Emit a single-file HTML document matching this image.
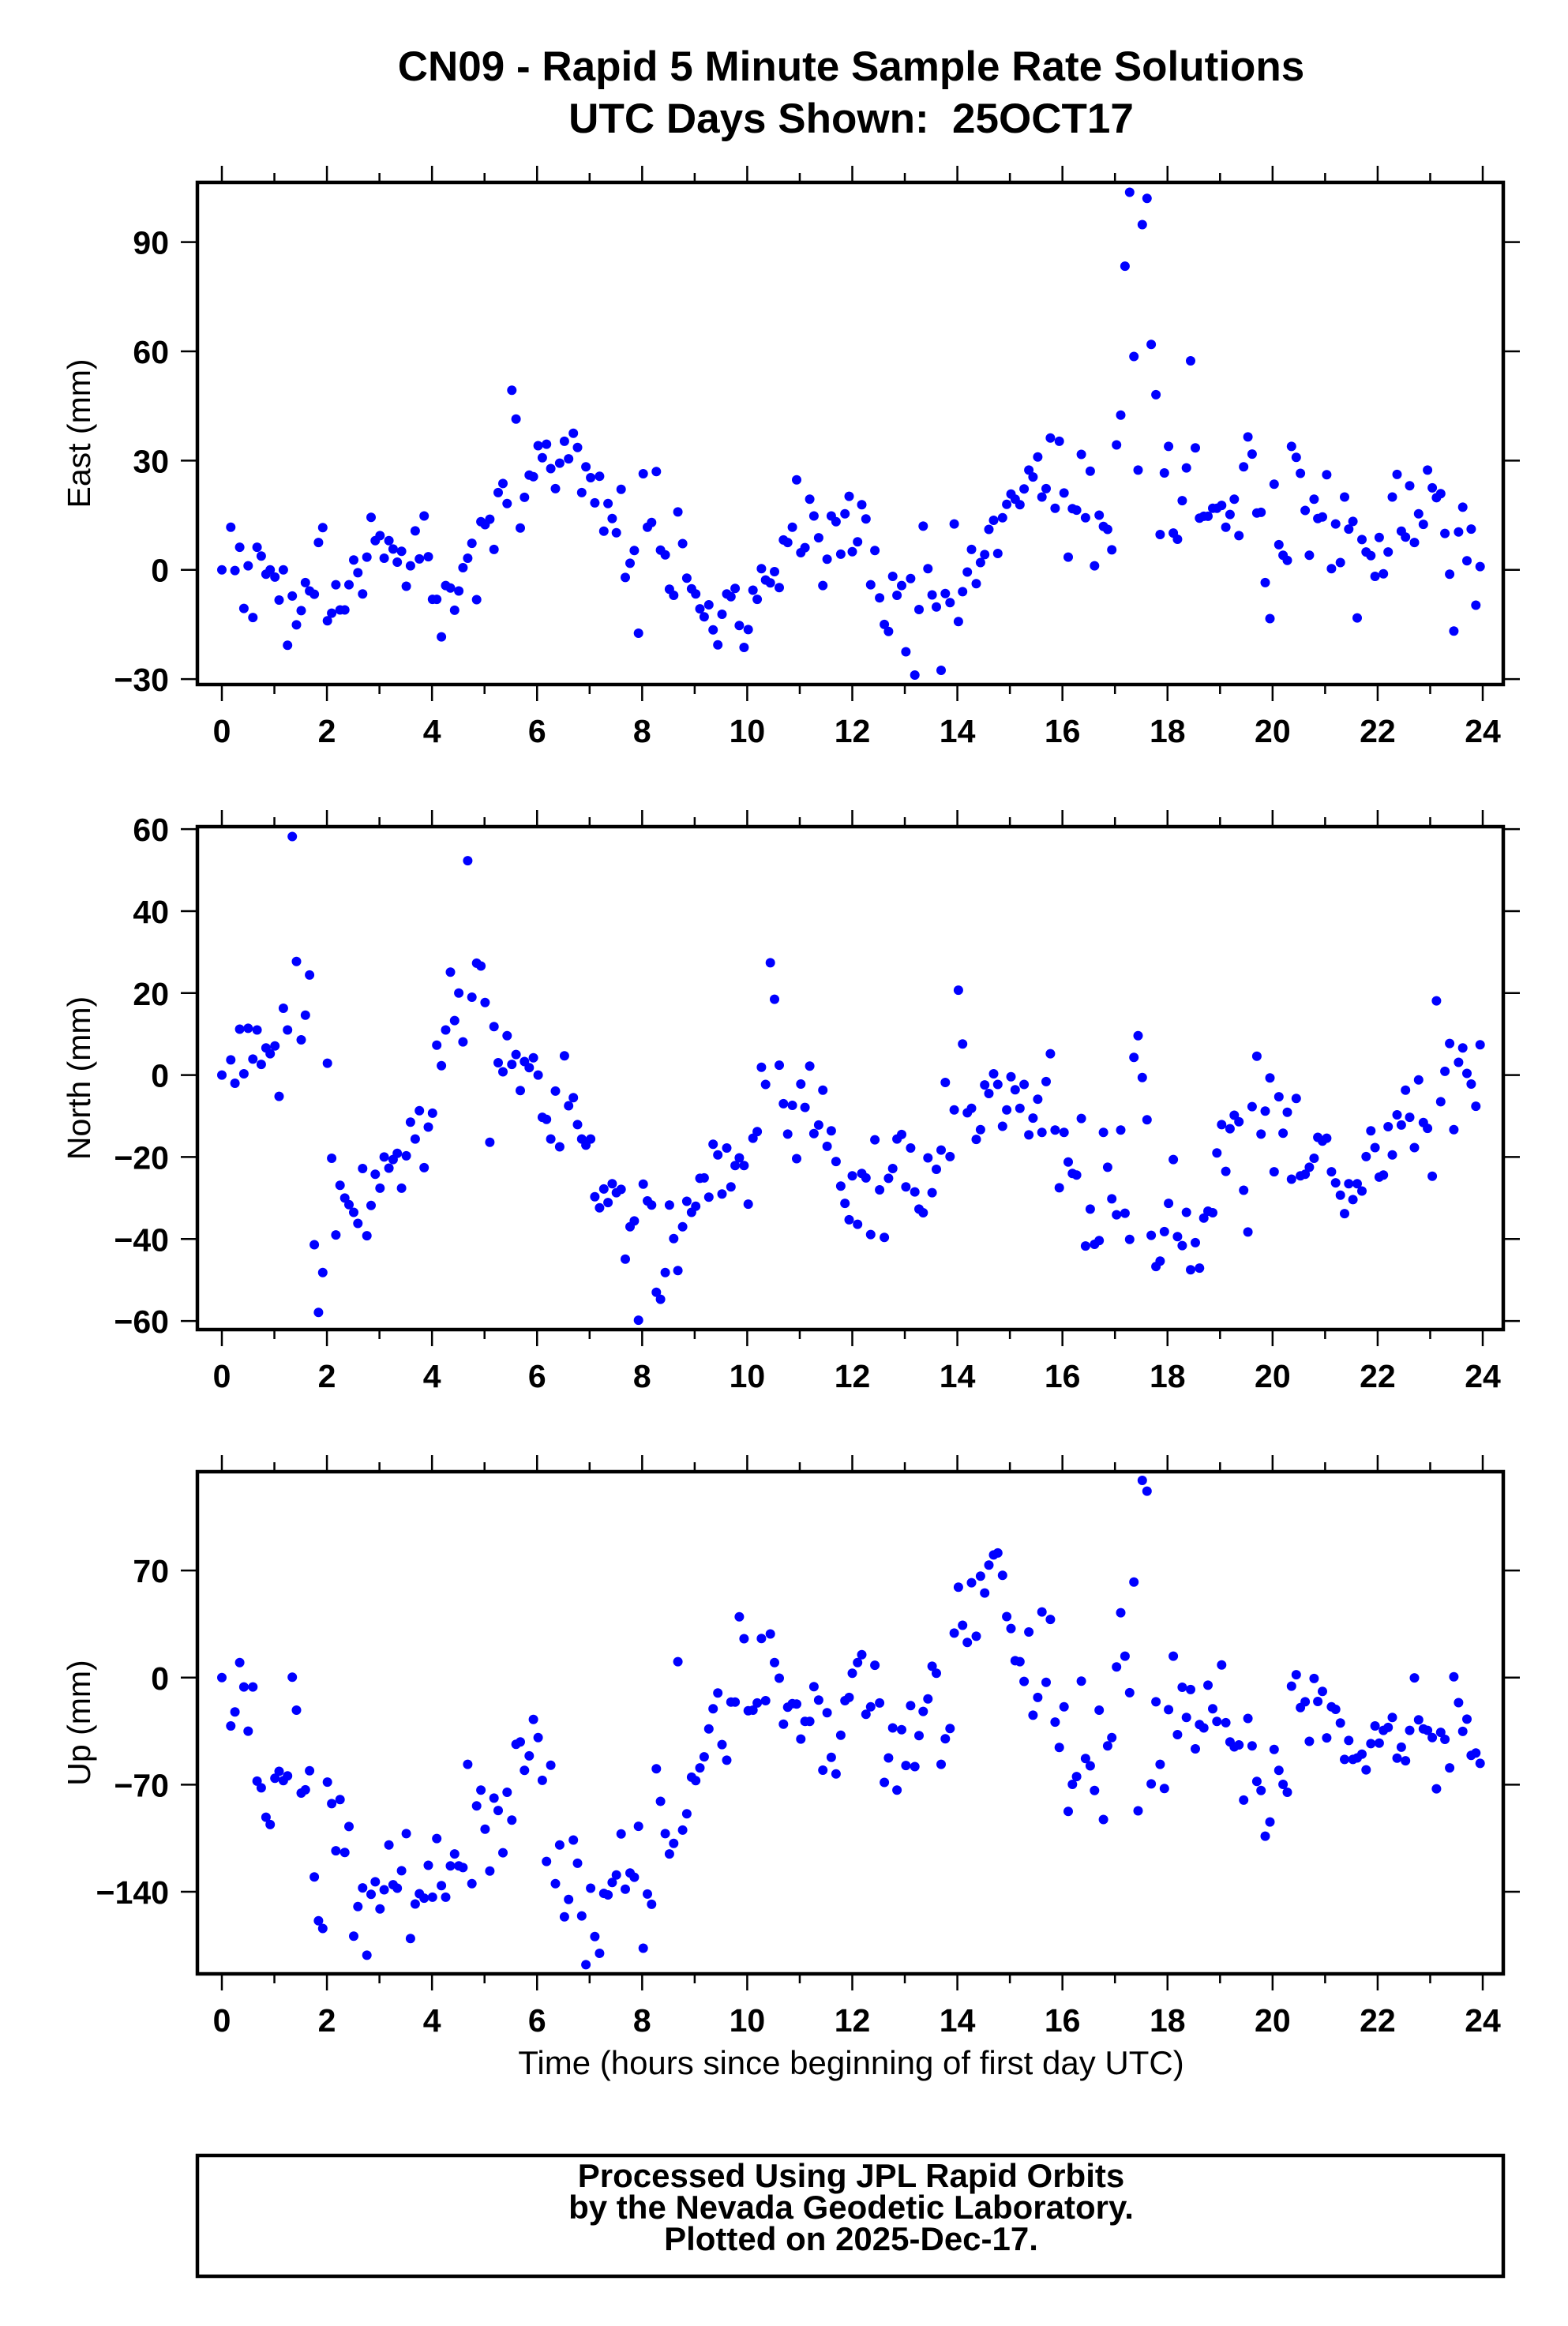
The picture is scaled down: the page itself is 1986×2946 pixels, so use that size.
<!DOCTYPE html>
<html><head><meta charset="utf-8"><title>CN09 Rapid 5 Minute Solutions</title>
<style>
html,body{margin:0;padding:0;background:#fff;}
svg{display:block;font-family:"Liberation Sans",Arial,sans-serif;}
</style></head>
<body>
<svg id="chart" xmlns="http://www.w3.org/2000/svg" width="1986" height="2946" viewBox="0 0 1986 2946">
<rect x="0" y="0" width="1986" height="2946" fill="#fff"/>
<text x="1078" y="102" text-anchor="middle" font-size="53" font-weight="bold">CN09 - Rapid 5 Minute Sample Rate Solutions</text>
<text x="1078" y="168" text-anchor="middle" font-size="53" font-weight="bold" xml:space="preserve" style="white-space:pre">UTC Days Shown:  25OCT17</text>
<text x="1078" y="2627" text-anchor="middle" font-size="42">Time (hours since beginning of first day UTC)</text>
<g>
<rect x="250" y="2730" width="1654" height="153" fill="none" stroke="#000" stroke-width="4.5"/>
<text x="1078" y="2770" text-anchor="middle" font-size="42" font-weight="bold">Processed Using JPL Rapid Orbits</text>
<text x="1078" y="2810" text-anchor="middle" font-size="42" font-weight="bold">by the Nevada Geodetic Laboratory.</text>
<text x="1078" y="2850" text-anchor="middle" font-size="42" font-weight="bold">Plotted on 2025-Dec-17.</text>
</g>
</svg>
<script>
const hours1 = [0,0.17,0.25,0.34,0.42,0.5,0.59,0.67,0.75,0.84,0.92,1.01,1.09,1.17,1.25,1.34,1.42,1.51,1.59,1.67,1.76,1.84,1.92,2.01,2.09,2.17,2.25,2.34,2.42,2.51,2.59,2.68,2.76,2.84,2.92,3.01,3.09,3.18,3.26,3.34,3.42,3.51,3.59,3.68,3.76,3.85,3.93,4.01,4.09,4.18,4.26,4.35,4.43,4.51,4.59,4.68,4.76,4.85,4.93,5.01,5.1,5.18,5.26,5.35,5.43,5.52,5.6,5.68,5.76,5.85,5.93,6.02,6.1,6.18,6.26,6.35,6.43,6.52,6.6,6.69,6.77,6.85,6.93,7.02,7.1,7.19,7.27,7.35,7.43,7.51,7.6,7.68,7.77,7.85,7.93,8.02,8.1,8.18,8.27,8.35,8.44,8.52,8.6,8.68,8.77,8.85,8.94,9.02,9.1,9.18,9.27,9.35,9.44,9.52,9.61,9.69,9.77,9.85,9.94,10.02,10.11,10.19,10.27,10.35,10.44,10.52,10.61,10.69,10.77,10.86,10.94,11.02,11.1,11.19,11.27,11.36,11.44,11.52,11.6,11.69,11.78,11.86,11.94,12.0];
const hours2 = [12.10,12.18,12.26,12.35,12.43,12.52,12.61,12.69,12.77,12.85,12.94,13.02,13.11,13.19,13.27,13.35,13.44,13.52,13.60,13.69,13.77,13.86,13.94,14.02,14.10,14.19,14.27,14.36,14.44,14.52,14.60,14.69,14.77,14.86,14.94,15.02,15.10,15.19,15.27,15.36,15.44,15.53,15.61,15.69,15.77,15.86,15.94,16.03,16.11,16.19,16.27,16.36,16.44,16.53,16.61,16.70,16.78,16.86,16.94,17.03,17.11,17.19,17.28,17.36,17.44,17.52,17.61,17.69,17.78,17.86,17.94,18.02,18.11,18.19,18.28,18.36,18.44,18.53,18.61,18.69,18.77,18.86,18.94,19.03,19.11,19.19,19.27,19.36,19.45,19.53,19.61,19.70,19.78,19.86,19.95,20.03,20.12,20.20,20.28,20.36,20.45,20.53,20.62,20.70,20.79,20.86,20.95,21.03,21.12,21.20,21.29,21.37,21.45,21.53,21.61,21.70,21.78,21.87,21.95,22.03,22.11,22.20,22.28,22.37,22.45,22.53,22.61,22.70,22.78,22.87,22.95,23.04,23.12,23.20,23.28,23.37,23.45,23.54,23.62,23.70,23.78,23.87,23.95];
const eastValues1 = [0,11.7,-0.2,6.2,-10.6,1.1,-13.1,6.2,3.8,-1.2,0,-2,-8.3,0,-20.7,-7.2,-15.1,-11.2,-3.5,-5.8,-6.7,7.5,11.6,-14,-11.9,-4.1,-11,-11,-4.1,2.7,-0.8,-6.6,3.5,14.4,8,9.4,3.2,8,5.7,2.1,5.1,-4.5,1.1,10.7,3,14.8,3.6,-8.1,-8.1,-18.4,-4.3,-5,-11.1,-5.8,0.6,3.2,7.3,-8.2,13.2,12.4,13.9,5.6,21.2,23.7,18.2,49.3,41.4,11.5,19.9,26,25.6,34.1,30.8,34.5,27.8,22.3,29.3,35.3,30.5,37.5,33.6,21.2,28.3,25.3,18.4,25.7,10.6,18.2,14.1,10.2,22.1,-2.1,1.8,5.3,-17.4,26.4,11.7,13,27,5.4,4.1,-5.3,-7,15.9,7.2,-2.3,-5.2,-6.6,-10.7,-12.9,-9.6,-16.5,-20.6,-12.2,-6.6,-7.4,-5.1,-15.3,-21.3,-16.4,-5.6,-8.1,0.3,-2.8,-3.6,-0.5,-4.9,8.2,7.5,11.7,24.7,4.7,6.1,19.4,14.8,8.8,-4.3,2.9,14.8,13.2,4.3,15.4,20.2,5];
const eastValues2 = [7.7,17.9,14,-4.1,5.3,-7.7,-15,-16.9,-1.8,-7,-4.3,-22.5,-2.4,-28.9,-10.9,12,0.3,-6.9,-10.2,-27.6,-6.5,-9,12.6,-14.2,-6,-0.6,5.6,-3.8,2,4.2,11.1,13.6,4.5,14.3,18,20.8,19.4,17.9,22.2,27.4,25.5,31,20,22.3,36.2,16.9,35.3,21.1,3.5,16.8,16.4,31.7,14.3,27.1,1.1,15,11.9,11.1,5.5,34.3,42.5,83.4,103.7,58.6,27.4,94.8,102,61.9,48.1,9.7,26.6,33.9,10.1,8.4,19,28,57.4,33.5,14.2,14.7,14.7,16.9,16.9,17.7,11.7,15.2,19.4,9.4,28.3,36.5,31.8,15.6,15.8,-3.5,-13.4,23.5,6.9,4,2.6,33.9,30.9,26.5,16.3,4,19.4,14.1,14.5,26.1,0.3,12.6,2,20,11.2,13.3,-13.2,8.3,4.9,3.9,-1.8,8.9,-1.1,4.9,20,26.2,10.6,9,23.1,7.5,15.4,12.5,27.4,22.5,19.8,20.9,10,-1.2,-16.8,10.4,17.2,2.5,11.2,-9.7,0.9];
const northValues1 = [0,3.7,-2,11.2,0.3,11.4,3.9,11,2.6,6.6,5.2,7.1,-5.2,16.3,11,58.2,27.7,8.6,14.6,24.4,-41.4,-57.9,-48.2,2.9,-20.3,-39,-26.9,-30,-31.6,-33.5,-36.2,-22.8,-39.2,-31.8,-24.2,-27.6,-20,-22.7,-20.6,-19.1,-27.6,-19.7,-11.5,-15.6,-8.7,-22.6,-12.7,-9.3,7.3,2.3,11,25.1,13.3,20,8.1,52.3,19,27.3,26.6,17.7,-16.4,11.8,3,0.8,9.6,2.6,5,-3.8,3.3,1.8,4.2,0,-10.3,-10.8,-15.6,-3.9,-17.5,4.7,-7.5,-5.5,-12.1,-15.6,-17.1,-15.6,-29.7,-32.4,-27.8,-31.1,-26.5,-28.7,-27.9,-44.9,-37,-35.6,-59.8,-26.6,-30.7,-31.7,-53,-54.7,-48.2,-31.7,-39.9,-47.7,-37,-30.8,-33.5,-32,-25.2,-25.1,-29.8,-16.9,-19.5,-29,-17.8,-27.3,-22.1,-20.2,-22.1,-31.5,-15.4,-13.8,1.9,-2.3,27.4,18.5,2.4,-7,-14.4,-7.4,-20.4,-2.2,-7.9,2.2,-14.3,-12.2,-3.7,-17.4,-13.6,-21.1,-27.1,-31.3,-35.3,-24.6];
const northValues2 = [-36.4,-24,-25.1,-38.9,-15.8,-28,-39.6,-25.2,-22.8,-15.6,-14.5,-27.3,-17.8,-28.5,-32.7,-33.6,-20.2,-28.7,-23,-18.3,-1.8,-19.9,-8.5,20.7,7.6,-9.2,-8.1,-15.7,-13.3,-2.4,-4.5,0.3,-2.3,-12.5,-8.5,-0.4,-3.6,-8.1,-2.3,-14.6,-10.5,-5.9,-14,-1.6,5.2,-13.4,-27.5,-14,-21.2,-24,-24.4,-10.6,-41.7,-32.7,-41.3,-40.4,-14,-22.5,-30.2,-34.1,-13.4,-33.7,-40.1,4.3,9.6,-0.6,-10.9,-39.1,-46.7,-45.4,-38.2,-31.3,-20.6,-39.4,-41.6,-33.5,-47.5,-40.9,-47.1,-34.9,-33.2,-33.6,-19,-12.1,-23.5,-13.1,-9.8,-11.4,-28.1,-38.3,-7.7,4.6,-14.4,-8.8,-0.7,-23.6,-5.3,-14.2,-9.1,-25.4,-5.7,-24.6,-24.2,-22.5,-20.3,-15.2,-16.1,-15.4,-23.6,-26.3,-29.3,-33.8,-26.5,-30.4,-26.5,-28.3,-19.9,-13.6,-17.7,-24.9,-24.4,-12.6,-19.5,-9.7,-12.2,-3.7,-10.3,-17.7,-1.2,-11.6,-13,-24.7,18.1,-6.5,0.9,7.7,-13.3,3.1,6.6,0.4,-2.2,-7.6,7.4];
const upValues1 = [0,-31.6,-22.5,9.8,-6.1,-35,-6.1,-67.7,-72.1,-91.3,-96.1,-65.8,-61.3,-67.4,-64.3,0.3,-21.3,-75.5,-73.4,-60.9,-130.3,-159,-164,-68.3,-82.4,-113.2,-79.7,-114.3,-97.4,-169.1,-149.7,-137.5,-181.5,-141.7,-133.5,-151.2,-138.7,-109.4,-135.4,-137.7,-126.3,-102,-170.6,-148,-141.3,-144.2,-122.7,-143.6,-105.2,-136,-143.6,-123.1,-115.3,-123.1,-124.2,-56.7,-134.7,-83.9,-73.6,-99.1,-126.5,-78.8,-86.9,-114.5,-75,-93.2,-43.6,-42.1,-60.7,-51.2,-27.4,-39.2,-67.2,-120.2,-57.3,-134.7,-109.4,-156.4,-145.1,-106.2,-121.4,-155.8,-187.7,-137.7,-169.3,-180.3,-141.1,-142.1,-133.9,-129,-102.2,-138.3,-127.8,-130.5,-97.2,-176.9,-141.5,-148.2,-59.6,-80.9,-102,-115.3,-108.4,10.4,-99.7,-89,-65.1,-67.4,-59,-51.8,-33.5,-20.4,-10.1,-43.8,-54,-16,-16,39.7,25.4,-21.7,-21.3,-16.6,25.6,-15.1,28.5,9.8,-0.4,-30.5,-19.4,-17,-17.3,-40.2,-28.6,-28.6,-5.9,-14.7,-60.5,-23,-52.1,-63,-37.7,-15.1,-13,2.8];
const upValues2 = [9.8,15,-24,-19.1,8.1,-16.6,-68.5,-52.5,-32.9,-73.6,-34.1,-57.5,-18.3,-58.2,-37.9,-22.1,-13.9,7.4,2.8,-56.7,-40,-33.3,29.1,59.1,34.2,23,62,27,66.3,55.3,73.6,80.2,81.5,66.9,39.9,32.1,11,10.4,-2.5,29.8,-24.6,-13,42.9,-3.1,38,-29.1,-45.7,-19.1,-87.5,-69.8,-64.7,-2.3,-52.9,-57.7,-73.8,-21.3,-92.8,-44.7,-39.2,7,42.4,14,-9.9,62.5,-87.1,128.9,121.9,-69.5,-15.8,-56.7,-72.5,-21,14,-37.3,-6.3,-26.1,-7.8,-46.6,-30.7,-32.9,-5,-20.4,-28.6,8.3,-29.5,-42.1,-45.3,-44,-80.1,-26.7,-44.7,-67.9,-73.8,-103.7,-94.4,-47,-60.7,-69.8,-75,-5.6,1.9,-19.6,-15.8,-41.7,-0.6,-15.6,-9,-39.4,-19.1,-20.8,-29.7,-53.5,-41.1,-53.5,-52.5,-50.1,-60.3,-43.2,-31.6,-42.8,-34.5,-32.6,-26.1,-52.7,-45.5,-54.4,-34.5,-0.2,-27.6,-33.5,-34.5,-39.2,-72.7,-35.8,-40.4,-59,0.5,-16.4,-35.2,-27.2,-50.8,-49.3,-56.1];
const xTickLabels = ["0","2","4","6","8","10","12","14","16","18","20","22","24"];
const eastTicks = [-30,0,30,60,90];
const northTicks = [-60,-40,-20,0,20,40,60];
const upTicks = [-140,-70,0,70];

const NS = "http://www.w3.org/2000/svg";
const svg = document.getElementById("chart");
const FL = 250, FR = 1904;
function xScale(h){ return 281 + h*(1878-281)/24; }
function mk(tag, attrs, parent){
  const e = document.createElementNS(NS, tag);
  for (const k in attrs) e.setAttribute(k, attrs[k]);
  (parent||svg).appendChild(e);
  return e;
}
function panel(key, title, top, bottom, vmin, vmax, ticks, vals, hrs){
  const yScale = v => bottom - (v - vmin)/(vmax - vmin)*(bottom - top);
  const g = mk("g", {});
  
  
  const pts = mk("g", {fill:"#0000ff"}, g);
  
  
  const n = Math.min(vals.length, hrs.length);
  for (let i=0;i<n;i++){
    const c = mk("ellipse", {cx:xScale(hrs[i]).toFixed(1), cy:yScale(vals[i]).toFixed(1), rx:6, ry:6}, pts);
    
    
  }
  const fr = mk("rect", {x:FL, y:top, width:FR-FL, height:bottom-top, fill:"none", stroke:"#000", "stroke-width":4.5}, g);
  
  
  const xt = mk("g", {stroke:"#000", "stroke-width":2.5}, g);
  
  
  for (let h=0; h<=24; h++){
    const len = (h%2===0) ? 19 : 10;
    const x = xScale(h);
    mk("line", {x1:x, x2:x, y1:bottom+2, y2:bottom+2+len}, xt);
    mk("line", {x1:x, x2:x, y1:top-2, y2:top-2-len}, xt);
  }
  for (let i=0;i<xTickLabels.length;i++){
    const t = mk("text", {x:xScale(Number(xTickLabels[i])), y:bottom+73, "text-anchor":"middle", "font-size":41, "font-weight":"bold"}, g);
    t.textContent = xTickLabels[i];
    
    
  }
  const yt = mk("g", {stroke:"#000", "stroke-width":2.5}, g);
  
  
  for (const v of ticks){
    const y = yScale(v);
    mk("line", {x1:FL-2, x2:FL-21, y1:y, y2:y}, yt);
    mk("line", {x1:FR+2, x2:FR+21, y1:y, y2:y}, yt);
    const t = mk("text", {x:214, y:y+15, "text-anchor":"end", "font-size":41, "font-weight":"bold"}, g);
    t.textContent = v < 0 ? "\u2212" + Math.abs(v) : String(v);
    
    
  }
  const cy = (top+bottom)/2;
  const at = mk("text", {x:0, y:0, transform:"translate(114," + cy + ") rotate(-90)", "text-anchor":"middle", "font-size":41}, g);
  at.textContent = title;
  
  
}
const hours = hours1.concat(hours2);
panel("east", "East (mm)", 231, 867, -31.5, 106.4, eastTicks, eastValues1.concat(eastValues2), hours);
panel("north", "North (mm)", 1047, 1684, -62.1, 60.6, northTicks, northValues1.concat(northValues2), hours);
panel("up", "Up (mm)", 1864, 2500, -193.7, 134.6, upTicks, upValues1.concat(upValues2), hours);
</script>
</body></html>
